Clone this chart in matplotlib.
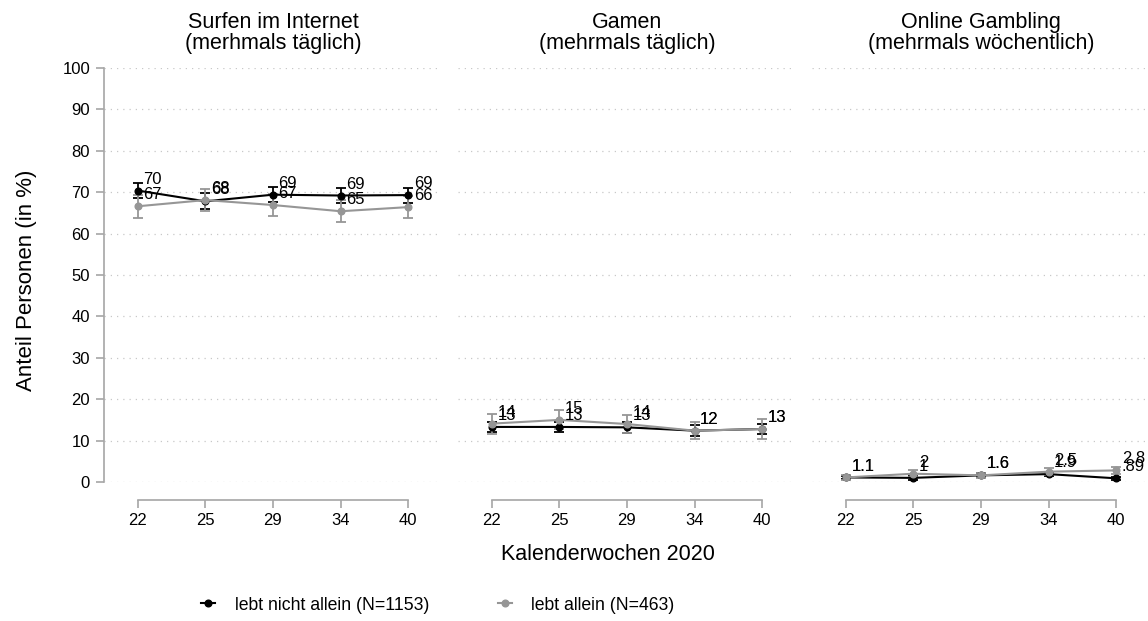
import matplotlib
matplotlib.use("Agg")
import matplotlib.pyplot as plt
from matplotlib.lines import Line2D
import numpy as np

plt.rcParams['font.family'] = ['Liberation Sans', 'DejaVu Sans']

weeks = ["22", "25", "29", "34", "40"]
titles = ["Surfen im Internet\n(merhmals täglich)",
          "Gamen\n(mehrmals täglich)",
          "Online Gambling\n(mehrmals wöchentlich)"]

# lebt nicht allein (N=1153)
surf_nicht = [70.4, 67.8, 69.4, 69.2, 69.3]
game_nicht = [13.3, 13.3, 13.2, 12.4, 12.8]
gamb_nicht = [1.1, 1.0, 1.6, 1.9, 0.89]
surf_nicht_ci = [1.8, 1.9, 1.8, 1.8, 1.8]
game_nicht_ci = [1.3, 1.3, 1.3, 1.3, 1.3]
gamb_nicht_ci = [0.4, 0.4, 0.5, 0.5, 0.4]

# lebt allein (N=463)
surf_allein = [66.6, 68.1, 66.9, 65.4, 66.4]
game_allein = [14.1, 15.0, 14.0, 12.4, 12.8]
gamb_allein = [1.1, 2.0, 1.6, 2.5, 2.8]
surf_allein_ci = [2.8, 2.6, 2.7, 2.6, 2.6]
game_allein_ci = [2.4, 2.3, 2.2, 2.1, 2.3]
gamb_allein_ci = [0.5, 0.8, 0.6, 0.8, 0.9]

label_nicht = "lebt nicht allein (N=1153)"
label_allein = "lebt allein (N=463)"

def fmt(v):
    s = f"{v:.2g}"
    if s.startswith("0."):
        s = s[1:]
    return s

panels = [
    (surf_nicht, surf_nicht_ci, surf_allein, surf_allein_ci),
    (game_nicht, game_nicht_ci, game_allein, game_allein_ci),
    (gamb_nicht, gamb_nicht_ci, gamb_allein, gamb_allein_ci),
]

W, H = 1148, 621
fig = plt.figure(figsize=(W / 100, H / 100), dpi=100)

lefts = [104, 458, 812]
pw = 338
top_px, bot_px = 68, 482
axcol = '#a6a6a6'
black = '#000000'
gray = '#969696'
fs = 12

x = np.arange(len(weeks))
axes = []
for i, (left, data) in enumerate(zip(lefts, panels)):
    ax = fig.add_axes([left / W, 1 - bot_px / H, pw / W, (bot_px - top_px) / H])
    axes.append(ax)
    yn, cn, ya, ca = data
    for yv, cv, col in [(yn, cn, black), (ya, ca, gray)]:
        ax.errorbar(x, yv, yerr=cv, color=col, lw=1.5, marker='o', ms=4.8,
                    capsize=3.5, capthick=1.3, elinewidth=1.3, zorder=3)
        for xi, v in zip(x, yv):
            ax.annotate(fmt(v), (xi, v), xytext=(4.0, 5.0), textcoords='offset points',
                        ha='left', va='baseline', fontsize=fs, color='black', zorder=4)
    ax.set_xlim(-0.5, 4.5)
    ax.set_ylim(0, 100)
    ax.set_yticks(np.arange(0, 101, 10))
    ax.grid(axis='y', linestyle=(0, (1, 4)), color='#c8c8c8', lw=0.9)
    ax.set_axisbelow(True)
    for s in ['top', 'right']:
        ax.spines[s].set_visible(False)
    ax.spines['bottom'].set_position(('outward', 13))
    ax.spines['bottom'].set_bounds(0, 4)
    ax.spines['bottom'].set_color(axcol)
    ax.spines['bottom'].set_linewidth(1.2)
    ax.set_xticks(x)
    ax.set_xticklabels(weeks)
    ax.tick_params(axis='x', length=6, width=1.2, color=axcol, labelsize=fs, pad=3)
    ax.set_title(titles[i], fontsize=15.5, pad=14, linespacing=1.0)
    ax.patch.set_visible(False)
    if i == 0:
        ax.spines['left'].set_color(axcol)
        ax.spines['left'].set_linewidth(1.2)
        ax.tick_params(axis='y', length=6, width=1.2, color=axcol, labelsize=fs, pad=4)
    else:
        ax.spines['left'].set_visible(False)
        ax.tick_params(axis='y', length=0, labelleft=False)

fig.text(27 / W, 1 - 280 / H, "Anteil Personen (in %)", rotation=90,
         ha='center', va='center', fontsize=16)
fig.text(608 / W, 1 - 555 / H, "Kalenderwochen 2020", ha='center', va='center', fontsize=15.5)

handles = [Line2D([], [], color=black, marker='o', ms=4.8, lw=1.5),
           Line2D([], [], color=gray, marker='o', ms=4.8, lw=1.5)]
fig.legend(handles, [label_nicht, label_allein], loc='center',
           bbox_to_anchor=(438 / W, 1 - 605 / H), ncol=2, frameon=False,
           fontsize=12.7, handlelength=0.8, handletextpad=1.1, columnspacing=3.9)

fig.savefig("out.png", dpi=100)
